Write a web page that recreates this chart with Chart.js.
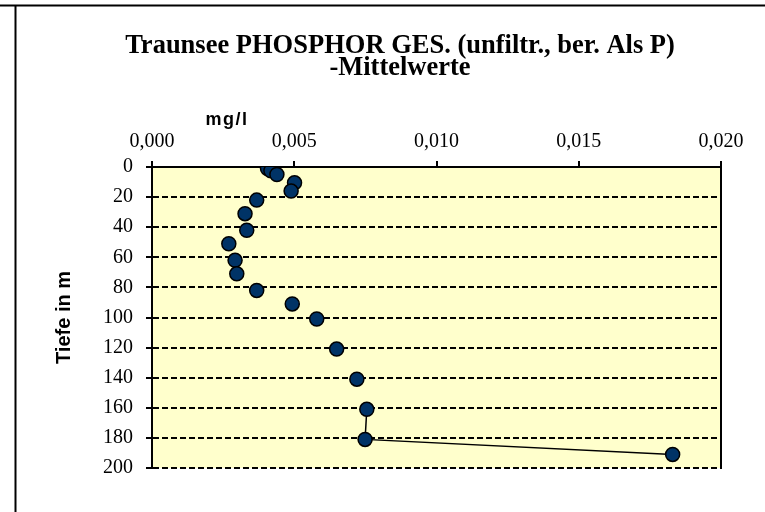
<!DOCTYPE html>
<html><head><meta charset="utf-8">
<script src="https://cdn.jsdelivr.net/npm/chart.js@4/dist/chart.umd.min.js"></script>
<style>html,body{margin:0;padding:0;background:#fff;} #wrap{width:765px;height:512px;position:relative}</style>
</head><body><div id="wrap"><canvas id="c" width="765" height="512"></canvas></div>
<script>
const titleLines = ['Traunsee PHOSPHOR GES. (unfiltr., ber. Als P)', '-Mittelwerte'];
const xAxisTitle = 'mg/l';
const yAxisTitle = 'Tiefe in m';
const depths =   [1, 2.5, 5, 10.5, 16, 22, 31, 42, 51, 62, 71, 82, 91, 101, 121, 141, 161, 181, 191];
const phosphor = [0.00406, 0.00418, 0.00439, 0.00501, 0.00489, 0.00368, 0.00327, 0.00333, 0.00270, 0.00292, 0.00298, 0.00368, 0.00493, 0.00579, 0.00649, 0.00720, 0.00755, 0.00749, 0.01830];
const xTicks = [0, 0.005, 0.010, 0.015, 0.020];
const xTickLabels = ['0,000', '0,005', '0,010', '0,015', '0,020'];
const yTicks = [0, 20, 40, 60, 80, 100, 120, 140, 160, 180, 200];
const yTickLabels = ['0', '20', '40', '60', '80', '100', '120', '140', '160', '180', '200'];
const firstLinkedIndex = 16; // connecting line drawn only from this point onward

const deco = {
  id: 'deco',
  beforeDraw(chart) {
    const {ctx, chartArea: a} = chart;
    ctx.save();
    ctx.fillStyle = '#fff';
    ctx.fillRect(0, 0, chart.width, chart.height);
    ctx.fillStyle = '#FFFFCC';
    ctx.fillRect(a.left, a.top, a.right - a.left, a.bottom - a.top);
    ctx.strokeStyle = '#000';
    ctx.lineWidth = 2;
    ctx.beginPath();
    ctx.moveTo(0, 5.5); ctx.lineTo(chart.width, 5.5);
    ctx.moveTo(15.5, 5.5); ctx.lineTo(15.5, chart.height);
    ctx.stroke();
    ctx.fillStyle = '#000';
    ctx.textAlign = 'center';
    ctx.textBaseline = 'alphabetic';
    ctx.font = 'bold 26.5px "Liberation Serif"';
    ctx.fillText(titleLines[0], 400, 53);
    ctx.fillText(titleLines[1], 400, 75);
    ctx.font = 'bold 18px "Liberation Sans"';
    if ('letterSpacing' in ctx) ctx.letterSpacing = '1.5px';
    ctx.fillText(xAxisTitle, 227, 125);
    ctx.restore();
  },
  beforeDatasetsDraw(chart) {
    const {ctx, chartArea: a} = chart;
    ctx.save();
    ctx.strokeStyle = '#000';
    ctx.lineWidth = 2;
    ctx.beginPath();
    ctx.moveTo(a.right, a.top - 1); ctx.lineTo(a.right, a.bottom + 1);
    ctx.stroke();
    ctx.restore();
  }
};

new Chart(document.getElementById('c'), {
  type: 'scatter',
  data: {
    datasets: [{
      data: depths.map((d, i) => ({x: phosphor[i], y: d})),
      showLine: true,
      borderColor: '#000',
      borderWidth: 1.5,
      segment: {
        borderColor: c => c.p0DataIndex >= firstLinkedIndex ? '#000' : 'rgba(0,0,0,0)'
      },
      pointStyle: 'circle',
      pointRadius: 7,
      pointBorderWidth: 1.5,
      pointBackgroundColor: '#003366',
      pointBorderColor: '#000'
    }]
  },
  options: {
    responsive: false,
    animation: false,
    layout: {padding: {left: 15, top: 60, right: 44, bottom: 44}},
    plugins: {legend: {display: false}, tooltip: {enabled: false}, title: {display: false}},
    scales: {
      x: {
        type: 'linear', position: 'top', min: 0, max: 0.02,
        afterBuildTicks: ax => { ax.ticks = xTicks.map(v => ({value: v})); },
        afterFit: ax => { ax.height = 107; },
        ticks: {
          callback: (v, i) => xTickLabels[i],
          color: '#000', padding: 7,
          font: {family: '"Liberation Serif"', size: 20}
        },
        grid: {drawOnChartArea: false, drawTicks: true, tickLength: 6, color: '#000', lineWidth: 2, tickBorderDash: []},
        border: {display: true, color: '#000', width: 2}
      },
      y: {
        type: 'linear', reverse: true, min: 0, max: 200,
        afterBuildTicks: ax => { ax.ticks = yTicks.map(v => ({value: v})); },
        afterFit: ax => { ax.width = 137; },
        ticks: {
          callback: (v, i) => yTickLabels[i],
          color: '#000', padding: 13,
          font: {family: '"Liberation Serif"', size: 20}
        },
        title: {
          display: true, text: yAxisTitle, color: '#000',
          font: {family: '"Liberation Sans"', size: 20, weight: 'bold'},
          padding: {top: 37, bottom: 0}
        },
        grid: {drawOnChartArea: true, drawTicks: true, tickLength: 6, color: '#000', lineWidth: 2, tickBorderDash: []},
        border: {display: true, color: '#000', width: 2, dash: [6, 3]}
      }
    }
  },
  plugins: [deco]
});
</script></body></html>
